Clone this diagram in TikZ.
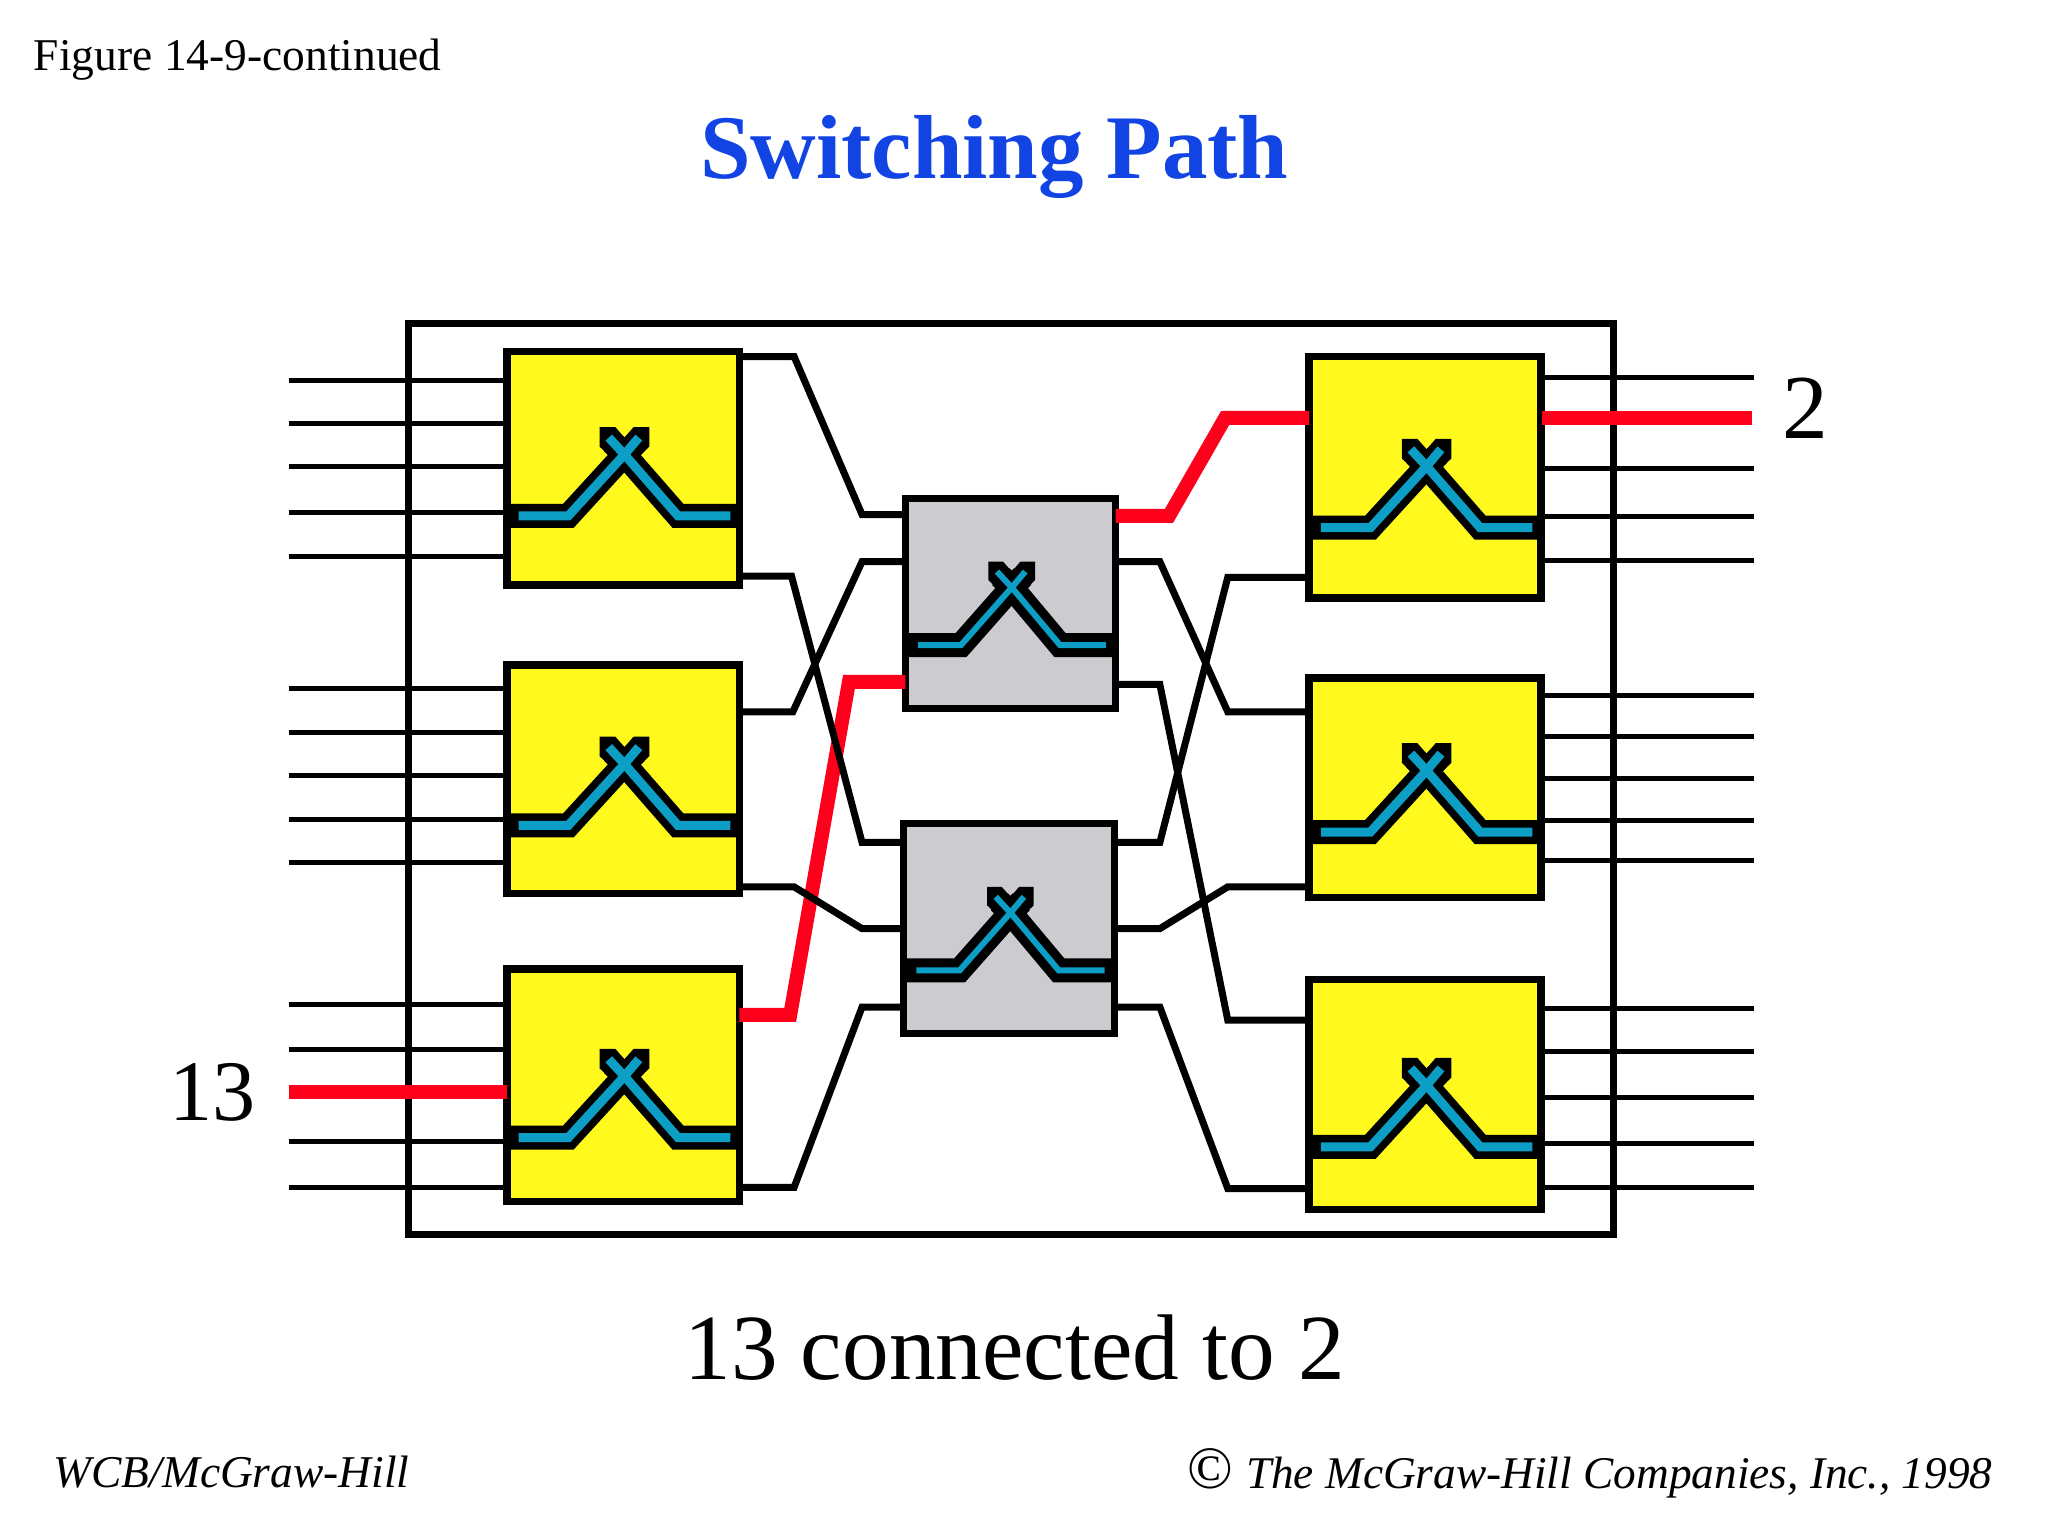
\documentclass[tikz,border=0pt]{standalone}
\usepackage{fontspec}
\setmainfont{Liberation Serif}
\usetikzlibrary{positioning}
\definecolor{swyellow}{RGB}{255,249,30}
\definecolor{swgray}{RGB}{204,204,208}
\definecolor{swcyan}{RGB}{12,158,196}
\definecolor{swred}{RGB}{255,0,28}
\definecolor{swblue}{RGB}{18,68,228}
\tikzset{
    frame/.style={
           rectangle,
           draw=black, line width=7pt,
           minimum width=922pt,
           minimum height=697pt,
           inner sep=0pt, outer sep=0pt,
           },
    outer/.style={
           rectangle,
           draw=black, line width=7.5pt,
           fill=swyellow,
           minimum width=178pt,
           inner sep=0pt, outer sep=0pt,
           },
    middle/.style={
           rectangle,
           draw=black, line width=7pt,
           fill=swgray,
           minimum width=161pt,
           minimum height=161pt,
           inner sep=0pt, outer sep=0pt,
           },
    port/.style={draw=black, line width=5pt},
    wire/.style={draw=black, line width=7pt, miter limit=4},
    path/.style={draw=swred, line width=14pt, miter limit=4},
    label/.style={inner sep=0pt, outer sep=0pt, anchor=base west},
}
% crossing inside a switch: node, y of its bar, half width of the bar, bend, scale, cyan width
\newcommand{\crossing}[6]{
  \begin{scope}[shift={(#1.center |- 0,#2)}]
    \fill[black] (-18*#5,-68*#5) -- (-6*#5,-68*#5) -- (1,-60*#5) -- (8*#5,-68*#5) -- (20*#5,-68*#5)
      -- (20*#5,-53*#5) -- (1,-35*#5) -- (-18*#5,-53*#5) -- cycle;
    \draw[black, line width=24pt, miter limit=4] (-#3,0) -- (-#4,0) -- (1,-47*#5) -- (-8*#5,-56*#5);
    \draw[black, line width=24pt, miter limit=4] (#3,0) -- (#4,0) -- (1,-47*#5) -- (10*#5,-56*#5);
    \draw[swcyan, line width=#6, miter limit=4] (-#3+9,0) -- (-#4,0) -- (1,-47*#5) -- (-11*#5,-60*#5);
    \draw[swcyan, line width=#6, miter limit=4] (#3-7,0) -- (#4,0) -- (1,-47*#5) -- (12*#5,-60*#5);
  \end{scope}
}
\begin{document}
\begin{tikzpicture}[x=1pt,y=-1pt,scale=1.30612,transform shape]
  \useasboundingbox (0,0) rectangle (1568,1176);

  \node[frame] (FRAME) at (774,596.5) {};

  % switches, left column
  \node[outer,minimum height=179pt] (INA) at (477,358.5) {};
  \node[outer,minimum height=175pt] (INB) at (477,596.5) {};
  \node[outer,minimum height=178pt] (INC) at (477,831) {};
  % switches, middle column
  \node[middle] (MIDA) at (773.5,462) {};
  \node[middle] (MIDB) at (772.5,711) {};
  % switches, right column
  \node[outer,minimum height=185pt] (OUTA) at (1091,365.5) {};
  \node[outer,minimum height=168pt] (OUTB) at (1091,603) {};
  \node[outer,minimum height=176pt] (OUTC) at (1091,838) {};

  % the path taken, under the black wires
  \coordinate (FREEIN) at (221,836);
  \coordinate (FREEOUT) at (1341,320);
  \path[path] (FREEIN) -- (INC.west |- FREEIN);
  \path[path] (INC.east |- 0,777) -- (605,777) -- (650,522) -- (MIDA.west |- 0,522);
  \path[path] (MIDA.east |- 0,395) -- (895,395) -- (938,320) -- (OUTA.west |- 0,320);
  \path[path] (OUTA.east |- FREEOUT) -- (FREEOUT);

  % inputs and outputs
  \foreach \sw/\y in {INA/291,INA/324,INA/357,INA/392,INA/426,
                      INB/527,INB/561,INB/594,INB/627,INB/660,
                      INC/769,INC/803,INC/874,INC/909} {
    \coordinate (FREE\y) at (221,\y);
    \path[port] (FREE\y) -- (\sw.west |- FREE\y);
  }
  \foreach \sw/\y in {OUTA/289,OUTA/359,OUTA/395,OUTA/429,
                      OUTB/532,OUTB/564,OUTB/596,OUTB/628,OUTB/659,
                      OUTC/772,OUTC/805,OUTC/840,OUTC/875,OUTC/909} {
    \coordinate (FREE\y) at (1343,\y);
    \path[port] (\sw.east |- FREE\y) -- (FREE\y);
  }

  % wires between the columns
  \path[wire] (INA.east |- 0,273) -- (608,273) -- (660,394) -- (MIDA.west |- 0,394);
  \path[wire] (INA.east |- 0,441) -- (606,441) -- (660,645) -- (MIDB.west |- 0,645);
  \path[wire] (INB.east |- 0,545) -- (607,545) -- (660,430) -- (MIDA.west |- 0,430);
  \path[wire] (INB.east |- 0,679) -- (608,679) -- (660,711) -- (MIDB.west |- 0,711);
  \path[wire] (INC.east |- 0,909) -- (608,909) -- (660,771) -- (MIDB.west |- 0,771);
  \path[wire] (MIDA.east |- 0,430) -- (888,430) -- (940,545) -- (OUTB.west |- 0,545);
  \path[wire] (MIDA.east |- 0,524) -- (888,524) -- (940,781) -- (OUTC.west |- 0,781);
  \path[wire] (MIDB.east |- 0,645) -- (888,645) -- (940,442) -- (OUTA.west |- 0,442);
  \path[wire] (MIDB.east |- 0,711) -- (888,711) -- (940,679) -- (OUTB.west |- 0,679);
  \path[wire] (MIDB.east |- 0,771) -- (888,771) -- (940,910) -- (OUTC.west |- 0,910);

  % crossings
  \foreach \sw/\y in {INA/395,INB/632,INC/871,OUTA/404,OUTB/637,OUTC/878} {
    \crossing{\sw}{\y}{89}{42}{1}{9pt}
  }
  \foreach \sw/\y in {MIDA/494,MIDB/743} {
    \crossing{\sw}{\y}{80}{38}{0.94}{6pt}
  }

  % texts
  \node[label,font=\fontsize{34.8}{38}\selectfont] (FIGURE) at (26,54) {Figure 14-9-continued};
  \node[label,font=\fontsize{69.6}{72}\selectfont\bfseries,text=swblue] (TITLE) at (536,137) {Switching Path};
  \node[label,font=\fontsize{66}{70}\selectfont] (NUMIN) at (130,858) {13};
  \node[label,font=\fontsize{70}{74}\selectfont] (NUMOUT) at (1365,336) {2};
  \node[label,font=\fontsize{71.4}{76}\selectfont] (CAPTION) at (524,1056) {13 connected to 2};
  \node[label,font=\fontsize{34.8}{38}\selectfont\itshape] (PUBLISHER) at (41,1139) {WCB/McGraw-Hill};
  \node[label,font=\fontsize{34.7}{38}\selectfont\itshape] (COPYRIGHT) at (954,1140) {The McGraw-Hill Companies, Inc., 1998};
  \node[label,font=\fontsize{46}{50}\selectfont] (CSIGN) at (909,1140) {©};
\end{tikzpicture}
\end{document}
